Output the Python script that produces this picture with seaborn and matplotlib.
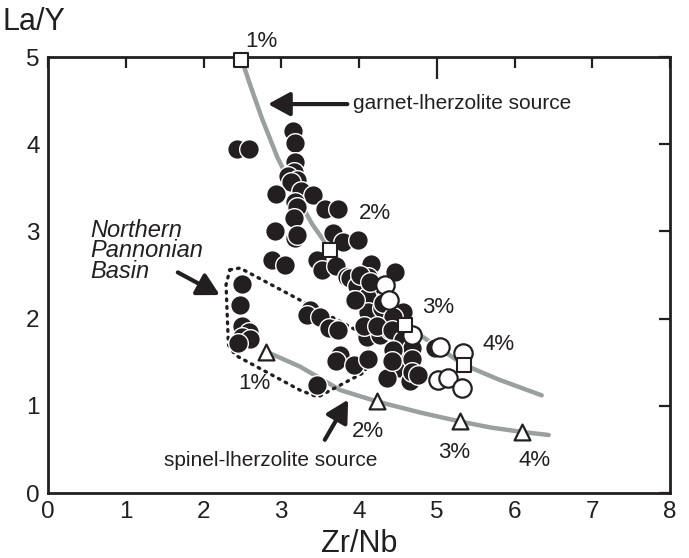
import matplotlib
matplotlib.use("Agg")
import matplotlib.pyplot as plt
import seaborn as sns
import pandas as pd

sns.set_theme(style="white")
plt.rcParams['font.family'] = ['Liberation Sans', 'DejaVu Sans']

INK = '#231f20'
GREY = '#9a9fa0'

# ---- data (Zr/Nb, La/Y) ----
filled_x = [3.15, 2.43, 2.58, 3.18, 3.18, 3.16, 3.09, 3.20, 3.13, 3.26, 3.41, 2.93, 3.18, 3.20,
            3.56, 3.73, 3.16, 2.92, 3.18, 3.20, 3.67, 3.80, 3.99, 2.88, 3.05, 3.46, 3.52, 3.71,
            3.84, 4.16, 4.46, 4.12, 2.49,
            2.47, 3.88, 3.97, 4.18, 3.93, 4.10, 4.12, 4.29, 4.53, 3.37, 3.33, 3.50, 3.61, 3.73,
            4.10, 4.27, 4.40, 2.49, 2.58, 2.49, 2.60, 2.45, 3.76, 3.71, 3.93, 4.12, 4.44, 4.53,
            4.36, 4.66, 3.46, 4.59,
            4.01, 4.14, 3.95, 4.31, 4.57, 4.44, 4.06, 4.23, 4.42, 4.57, 4.68, 4.44, 4.42, 4.68,
            4.68, 4.76, 4.98]
filled_y = [4.15, 3.94, 3.94, 4.01, 3.80, 3.68, 3.64, 3.59, 3.57, 3.46, 3.42, 3.43, 3.34, 3.28,
            3.26, 3.26, 3.15, 3.00, 2.92, 2.96, 2.98, 2.88, 2.90, 2.67, 2.61, 2.67, 2.56, 2.60,
            2.48, 2.63, 2.54, 2.48, 2.40,
            2.16, 2.46, 2.37, 2.39, 2.21, 2.25, 2.08, 2.12, 2.06, 2.10, 2.04, 2.02, 1.89, 1.87,
            1.79, 1.81, 1.87, 1.91, 1.85, 1.79, 1.77, 1.72, 1.58, 1.51, 1.47, 1.54, 1.53, 1.43,
            1.32, 1.28, 1.24, 1.62,
            2.50, 2.42, 2.21, 2.18, 2.08, 2.02, 1.91, 1.91, 1.87, 1.75, 1.66, 1.64, 1.51, 1.54,
            1.39, 1.35, 1.66]

open_x = [4.33, 4.38, 4.68, 5.04, 5.34, 5.02, 5.15, 5.32]
open_y = [2.39, 2.21, 1.81, 1.68, 1.60, 1.30, 1.32, 1.20]

# garnet-lherzolite melting curve and 1-4 % melt marks
garnet_curve_x = [2.48, 2.60, 2.75, 2.95, 3.20, 3.40, 3.63, 4.00, 4.30, 4.59, 5.00, 5.35, 5.80, 6.35]
garnet_curve_y = [5.00, 4.68, 4.30, 3.85, 3.40, 3.08, 2.79, 2.40, 2.15, 1.93, 1.68, 1.47, 1.30, 1.12]
garnet_mark_x = [2.48, 3.63, 4.59, 5.35]
garnet_mark_y = [4.97, 2.79, 1.93, 1.47]
garnet_labels = ['1%', '2%', '3%', '4%']

# spinel-lherzolite melting curve and 1-4 % melt marks
spinel_curve_x = [2.81, 3.24, 3.76, 4.23, 4.80, 5.30, 5.70, 6.10, 6.44]
spinel_curve_y = [1.62, 1.45, 1.18, 1.05, 0.92, 0.82, 0.75, 0.70, 0.665]
spinel_mark_x = [2.81, 4.23, 5.30, 6.10]
spinel_mark_y = [1.62, 1.05, 0.82, 0.70]
spinel_labels = ['1%', '2%', '3%', '4%']

# Northern Pannonian Basin field outline
field_x = [2.34, 2.47, 3.96, 4.12, 4.08, 3.47, 3.24, 2.41, 2.32, 2.29, 2.34]
field_y = [2.56, 2.58, 1.87, 1.69, 1.39, 1.10, 1.18, 1.58, 1.70, 2.39, 2.56]

x_ticks = [0, 1, 2, 3, 4, 5, 6, 7, 8]
y_ticks = [0, 1, 2, 3, 4, 5]

# ---- figure ----
fig = plt.figure(figsize=(6.89, 5.58), dpi=100)
ax = fig.add_axes([48 / 689, 1 - 493 / 558, 622 / 689, 436 / 558])

sns.lineplot(x=garnet_curve_x, y=garnet_curve_y, sort=False, color=GREY, lw=3.2, ax=ax, zorder=1)
sns.lineplot(x=spinel_curve_x, y=spinel_curve_y, sort=False, color=GREY, lw=3.2, ax=ax, zorder=1)
ax.plot(field_x, field_y, ls=(0, (0.5, 1.8)), color=INK, lw=2.4, dash_capstyle='round',
        solid_joinstyle='round', zorder=1.5)

sns.scatterplot(x=filled_x, y=filled_y, s=200, color=INK, edgecolor='white', linewidth=1.0, ax=ax, zorder=2)
sns.scatterplot(x=open_x, y=open_y, s=175, color='white', edgecolor=INK, linewidth=1.6, ax=ax, zorder=3)
sns.scatterplot(x=garnet_mark_x, y=garnet_mark_y, marker='s', s=95, color='white', edgecolor=INK,
                linewidth=1.5, ax=ax, zorder=4, clip_on=False)
sns.scatterplot(x=spinel_mark_x, y=spinel_mark_y, marker='^', s=130, color='white', edgecolor=INK,
                linewidth=1.6, ax=ax, zorder=4)

pct_fs = 16
g_lab_pos = [(2.75, 5.18), (4.2, 3.2), (5.02, 2.13), (5.8, 1.70)]
for (tx, ty), lab in zip(g_lab_pos, garnet_labels):
    ax.text(tx, ty, lab, fontsize=pct_fs, color=INK, ha='center', va='center', clip_on=False)
s_lab_pos = [(2.66, 1.26), (4.12, 0.70), (5.23, 0.47), (6.26, 0.37)]
for (tx, ty), lab in zip(s_lab_pos, spinel_labels):
    ax.text(tx, ty, lab, fontsize=pct_fs, color=INK, ha='center', va='center')

arrow = dict(arrowstyle='-|>,head_length=1.1,head_width=0.6', color=INK, lw=3.0, shrinkA=0, shrinkB=0)
ax.annotate('', xy=(2.83, 4.46), xytext=(3.85, 4.46), arrowprops=arrow)
ax.text(3.92, 4.47, 'garnet-lherzolite source', fontsize=15, color=INK, ha='left', va='center')
ax.annotate('', xy=(2.21, 2.27), xytext=(1.67, 2.53), arrowprops=arrow)
ax.text(0.55, 3.14, 'Northern\nPannonian\nBasin', fontsize=17, style='italic', color=INK,
        ha='left', va='top', linespacing=0.85)
ax.annotate('', xy=(3.86, 1.07), xytext=(3.56, 0.61), arrowprops=arrow)
ax.text(2.86, 0.37, 'spinel-lherzolite source', fontsize=15, color=INK, ha='center', va='center')

ax.set_xlim(0, 8)
ax.set_ylim(0, 5)
ax.set_xticks(x_ticks)
ax.set_yticks(y_ticks)
ax.set_xticklabels([str(v) for v in x_ticks])
ax.set_yticklabels([str(v) for v in y_ticks])
ax.tick_params(direction='in', length=8, width=1.6, color=INK, labelsize=17.5, labelcolor=INK,
               top=True, right=True, pad=6)
ax.xaxis.get_major_ticks()[5].tick1line.set_markersize(16)
ax.xaxis.get_major_ticks()[5].tick2line.set_markersize(16)
for sp in ax.spines.values():
    sp.set_color(INK)
    sp.set_linewidth(2.0)
ax.grid(False)

ax.set_xlabel('Zr/Nb', fontsize=22, color=INK, labelpad=4)
ax.set_ylabel('La/Y', fontsize=22, color=INK, rotation=0, ha='center', va='center')
ax.yaxis.set_label_coords(-0.022, 1.08)

fig.savefig('out.png', dpi=100, facecolor='white')
